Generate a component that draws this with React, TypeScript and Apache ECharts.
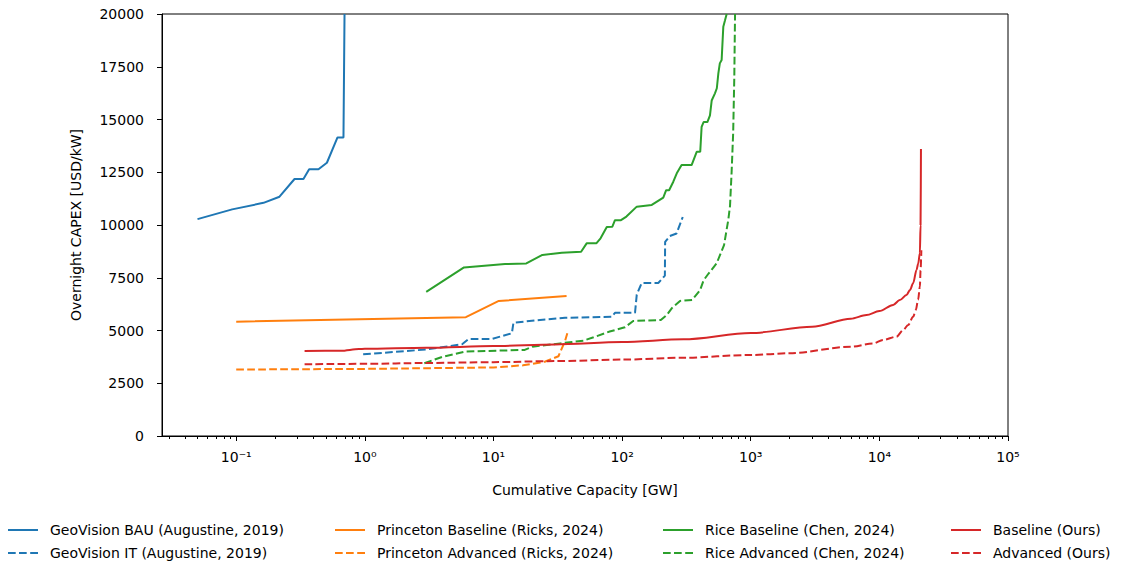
import React, { useEffect, useRef } from "react";
import * as echarts from "echarts";

// Cumulative capacity [GW], overnight CAPEX [USD/kW]
const geoVisionBAU: [number, number][] = [
  [0.05, 10280], [0.093, 10740], [0.163, 11050], [0.217, 11340], [0.284, 12180],
  [0.333, 12180], [0.369, 12640], [0.436, 12640], [0.507, 12950], [0.613, 14150],
  [0.682, 14150], [0.695, 20000],
];

const geoVisionIT: [number, number][] = [
  [0.97, 3870], [3.0, 4100], [5.7, 4350], [6.4, 4600], [9.7, 4600], [13.9, 4870],
  [14.3, 5370], [23, 5500], [36, 5600], [83, 5650], [88, 5840], [126, 5840],
  [130, 6700], [142, 7250], [191, 7250], [215, 7600], [216, 9200], [235, 9480],
  [265, 9600], [296, 10380],
];

const princetonBaseline: [number, number][] = [
  [0.1, 5420], [6.1, 5630], [11, 6400], [37, 6630],
];

const princetonAdvanced: [number, number][] = [
  [0.1, 3150], [1, 3180], [10, 3250], [17, 3350], [25, 3520], [32, 3780],
  [34, 4150], [36, 4500], [37.5, 4870],
];

const riceBaseline: [number, number][] = [
  [3.0, 6830], [5.9, 7990], [12.3, 8150], [18, 8180], [24, 8580], [34, 8690],
  [48, 8730], [53, 9130], [63, 9130], [68, 9370], [76, 9900], [84, 9920],
  [88, 10230], [98, 10230], [108, 10400], [130, 10870], [170, 10950], [209, 11300],
  [220, 11650], [232, 11650], [250, 12050], [266, 12450], [290, 12840], [347, 12840],
  [380, 13470], [405, 13470], [415, 14650], [430, 14880], [460, 14880], [482, 15200],
  [497, 15900], [527, 16240], [545, 16480], [560, 17190], [575, 17660], [594, 17820],
  [612, 19400], [631, 19700], [650, 20000],
];

const riceAdvanced: [number, number][] = [
  [2.9, 3450], [4, 3750], [6, 4000], [17.5, 4080], [20, 4230], [33, 4390],
  [50, 4520], [60, 4680], [80, 4950], [105, 5150], [122, 5450], [200, 5500],
  [222, 5730], [243, 6050], [282, 6400], [350, 6450], [403, 6900], [430, 7380],
  [470, 7700], [543, 8180], [620, 9050], [669, 10240], [690, 10900], [710, 12500],
  [730, 14350], [745, 17000], [755, 20000],
];

const baselineOurs: [number, number][] = [
  [0.34, 4030], [0.65, 4040], [0.9, 4120], [1, 4130], [3, 4180], [10, 4260],
  [30, 4340], [100, 4450], [300, 4580], [1000, 4880], [3000, 5180], [6000, 5560],
  [7940, 5730], [10000, 5920], [12800, 6210], [14400, 6440], [16250, 6680],
  [17300, 6920], [18300, 7240], [19450, 7870], [20050, 8180], [20650, 8660],
  [20900, 10000], [21050, 13600],
];

const advancedOurs: [number, number][] = [
  [0.34, 3400], [1, 3420], [3, 3460], [10, 3500], [30, 3550], [100, 3620],
  [300, 3710], [1000, 3840], [2000, 3920], [6000, 4230], [8960, 4390],
  [10700, 4550], [13600, 4710], [15300, 5020], [16750, 5260], [18300, 5650],
  [19200, 5970], [20000, 6450], [20650, 7080], [20900, 7850], [21200, 8800],
];

const seriesNames = [
  "GeoVision BAU (Augustine, 2019)",
  "GeoVision IT (Augustine, 2019)",
  "Princeton Baseline (Ricks, 2024)",
  "Princeton Advanced (Ricks, 2024)",
  "Rice Baseline (Chen, 2024)",
  "Rice Advanced (Chen, 2024)",
  "Baseline (Ours)",
  "Advanced (Ours)",
];

const xMajorExponents = [-1, 0, 1, 2, 3, 4, 5];

const COLORS = { blue: "#1f77b4", orange: "#ff7f0e", green: "#2ca02c", red: "#d62728" };
const FONT = "DejaVu Sans";
const X_LOG_MIN = -1.577;
const X_LOG_MAX = 5;

const SUP: Record<string, string> = {
  "-": "\u207B", "0": "\u2070", "1": "\u00B9", "2": "\u00B2", "3": "\u00B3",
  "4": "\u2074", "5": "\u2075", "6": "\u2076", "7": "\u2077", "8": "\u2078", "9": "\u2079",
};

function supText(n: number): string {
  return String(n).split("").map((c) => SUP[c] || c).join("");
}

function minorTickValues(): number[] {
  const out: number[] = [];
  for (let k = -2; k <= 4; k++) {
    for (let m = 2; m <= 9; m++) {
      const v = Math.log10(m) + k;
      if (v >= X_LOG_MIN && v <= X_LOG_MAX) out.push(v);
    }
  }
  return out;
}

const toLog = (d: [number, number][]) => d.map(([x, y]) => [Math.log10(x), y]);

const SOLID_ICON = "path://M0,0h30v2h-30z";
const DASH_ICON = "path://M0,0h7.7v2h-7.7z M11,0h7.7v2h-7.7z M22.2,0h7.8v2h-7.8z";

export default function App() {
  const ref = useRef<HTMLDivElement>(null);

  useEffect(() => {
    if (!ref.current) return;
    const chart = echarts.init(ref.current, undefined, { renderer: "svg" });

    const mk = (name: string, data: [number, number][], color: string, dashed: boolean, smooth = false) => ({
      name,
      type: "line",
      xAxisIndex: 0,
      yAxisIndex: 0,
      data: toLog(data),
      symbol: "none",
      showSymbol: false,
      clip: true,
      smooth: smooth ? 0.3 : false,
      smoothMonotone: smooth ? "x" : undefined,
      color,
      lineStyle: { color, width: 2, type: dashed ? [7.7, 3.3] : "solid" },
      emphasis: { disabled: true },
    });

    const legendCol = (left: number, names: string[]) => ({
      orient: "vertical",
      left,
      top: 523,
      padding: 0,
      itemWidth: 30,
      itemHeight: 14,
      itemGap: 9,
      selectedMode: false,
      textStyle: { fontFamily: FONT, fontSize: 14, color: "#000", padding: [0, 0, 0, 7] },
      data: [
        { name: names[0], icon: SOLID_ICON },
        { name: names[1], icon: DASH_ICON },
      ],
    });

    const option: any = {
      animation: false,
      backgroundColor: "#fff",
      textStyle: { fontFamily: FONT },
      grid: {
        left: 162,
        right: 116,
        top: 14,
        bottom: 127,
        show: true,
        borderColor: "#000",
        borderWidth: 1,
        containLabel: false,
      },
      legend: [
        legendCol(8, [seriesNames[0], seriesNames[1]]),
        legendCol(335, [seriesNames[2], seriesNames[3]]),
        legendCol(663, [seriesNames[4], seriesNames[5]]),
        legendCol(951, [seriesNames[6], seriesNames[7]]),
      ],
      xAxis: [
        {
          type: "value",
          min: X_LOG_MIN,
          max: X_LOG_MAX,
          position: "bottom",
          name: "Cumulative Capacity [GW]",
          nameLocation: "middle",
          nameGap: 47,
          nameTextStyle: { fontFamily: FONT, fontSize: 14, color: "#000" },
          axisLine: { show: true, onZero: false, lineStyle: { color: "#000", width: 1 } },
          axisTick: {
            show: true,
            length: 5,
            lineStyle: { color: "#000", width: 1 },
            customValues: xMajorExponents,
          },
          axisLabel: {
            show: true,
            margin: 14,
            fontFamily: FONT,
            fontSize: 14,
            color: "#000",
            customValues: xMajorExponents,
            formatter: (v: number) => "10" + supText(Math.round(v)),
          },
          splitLine: { show: false },
        },
        {
          type: "value",
          min: X_LOG_MIN,
          max: X_LOG_MAX,
          position: "bottom",
          axisLine: { show: false, onZero: false },
          axisTick: {
            show: true,
            length: 3,
            lineStyle: { color: "#000", width: 1 },
            customValues: minorTickValues(),
          },
          axisLabel: { show: false },
          splitLine: { show: false },
        },
      ],
      yAxis: [
        {
          type: "value",
          min: 0,
          max: 20000,
          interval: 2500,
          name: "Overnight CAPEX [USD/kW]",
          nameLocation: "middle",
          nameGap: 79,
          nameTextStyle: { fontFamily: FONT, fontSize: 14, color: "#000" },
          axisLine: { show: true, onZero: false, lineStyle: { color: "#000", width: 1 } },
          axisTick: { show: true, length: 5, lineStyle: { color: "#000", width: 1 } },
          axisLabel: {
            margin: 18,
            fontFamily: FONT,
            fontSize: 14,
            color: "#000",
            formatter: (v: number) => String(v),
          },
          splitLine: { show: false },
        },
      ],
      series: [
        mk(seriesNames[0], geoVisionBAU, COLORS.blue, false),
        mk(seriesNames[1], geoVisionIT, COLORS.blue, true),
        mk(seriesNames[2], princetonBaseline, COLORS.orange, false),
        mk(seriesNames[3], princetonAdvanced, COLORS.orange, true),
        mk(seriesNames[4], riceBaseline, COLORS.green, false),
        mk(seriesNames[5], riceAdvanced, COLORS.green, true),
        mk(seriesNames[6], baselineOurs, COLORS.red, false, true),
        mk(seriesNames[7], advancedOurs, COLORS.red, true, true),
      ],
    };

    chart.setOption(option);
    return () => chart.dispose();
  }, []);

  return (
    <div
      ref={ref}
      style={{ width: 1124, height: 563, position: "absolute", left: 0, top: 0 }}
    />
  );
}
